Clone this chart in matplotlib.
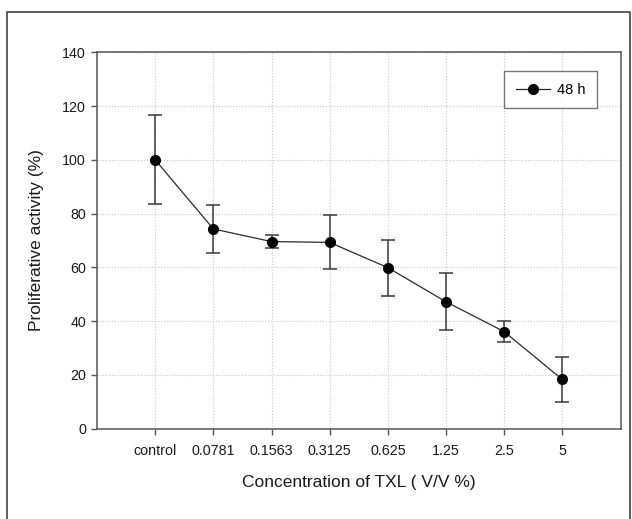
"""
Proliferative activity vs. TXL concentration (48 h), error-bar line chart.
"""
import matplotlib

matplotlib.use("Agg")
import matplotlib.pyplot as plt
from matplotlib.lines import Line2D
from matplotlib.patches import Rectangle

plt.rcParams["font.family"] = ["Liberation Sans", "DejaVu Sans"]

# ---------------------------------------------------------------------------
# Data
# ---------------------------------------------------------------------------

concentrations = ["control", "0.0781", "0.1563", "0.3125", "0.625", "1.25", "2.5", "5"]
activity = [100.0, 74.3, 69.6, 69.3, 59.9, 47.2, 36.1, 18.3]
activity_err = [16.5, 9.0, 2.5, 10.0, 10.4, 10.6, 4.0, 8.4]
series_label = "48 h"

y_ticks = [0, 20, 40, 60, 80, 100, 120, 140]

# ---------------------------------------------------------------------------
# Plot
# ---------------------------------------------------------------------------

W, H = 632, 519
fig = plt.figure(figsize=(W / 100, H / 100), dpi=100)

# axes box in pixel coordinates
left, right, top, bottom = 97, 620.5, 52.3, 428.7
ax = fig.add_axes([left / W, 1 - bottom / H, (right - left) / W, (bottom - top) / H])

xs = list(range(len(concentrations)))
ax.errorbar(
    xs, activity, yerr=activity_err,
    color="#2a2a2a", lw=0.9, marker="o", ms=7, mfc="black", mec="black",
    ecolor="#3a3a3a", elinewidth=1.1, capsize=4.7, capthick=1.1, zorder=3,
)

ax.set_xlim(-1, len(concentrations))
ax.set_ylim(0, 140)
ax.set_xticks(xs)
ax.set_xticklabels(concentrations)
ax.set_yticks(y_ticks)

ax.grid(True, color="#c8c8c8", ls=(0, (1, 1.6)), lw=0.8, zorder=0)
ax.set_axisbelow(True)

for sp in ax.spines.values():
    sp.set_color("#555555")
    sp.set_linewidth(1.1)

ax.tick_params(axis="both", direction="out", length=4, width=1.0, color="#555555",
               labelsize=10.3, labelcolor="#1a1a1a")
ax.tick_params(axis="x", pad=7)
ax.tick_params(axis="y", pad=4)

ax.set_xlabel("Concentration of TXL ( V/V %)", fontsize=12.5, color="#1a1a1a", labelpad=12)
ax.set_ylabel("Proliferative activity (%)", fontsize=12.5, color="#1a1a1a", labelpad=13)

# legend: plain line + marker handle (no error bar)
handle = Line2D([], [], color="#2a2a2a", lw=0.9, marker="o", ms=7, mfc="black", mec="black")
leg = ax.legend(
    [handle], [series_label],
    loc="upper right", bbox_to_anchor=((597 - left) / (right - left), 1 - (71 - top) / (bottom - top)),
    fontsize=10.5, frameon=True, fancybox=False, handlelength=2.3, borderpad=0.8,
    handletextpad=0.5, borderaxespad=0,
)
leg.get_frame().set_edgecolor("#555555")
leg.get_frame().set_linewidth(1.0)

# outer frame of the figure panel
fig.patches.append(Rectangle((6.7 / W, -0.05), (630 - 6.7) / W, 1 - 11.7 / H + 0.05,
                             transform=fig.transFigure, fill=False,
                             edgecolor="#444444", lw=1.2))

fig.savefig("out.png", dpi=100)
